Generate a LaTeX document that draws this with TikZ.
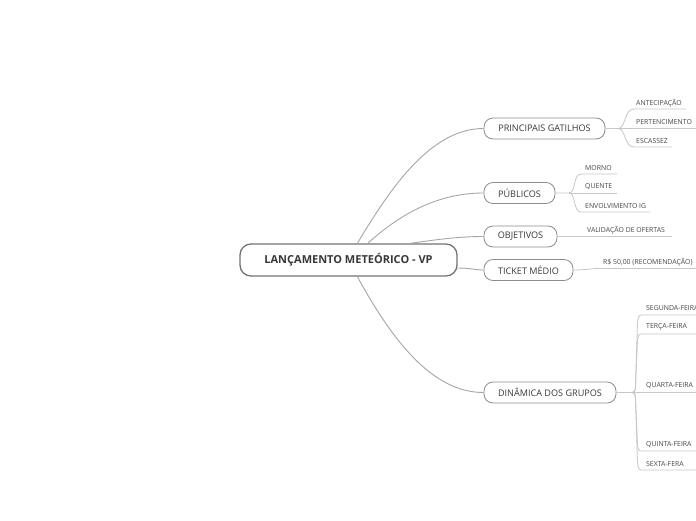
\documentclass[tikz,border=0pt]{standalone}
\usepackage{fontspec}
\setmainfont{Open Sans}
\begin{document}
\begin{tikzpicture}[x=1pt,y=-1pt,
  central/.style={draw=black!55,line width=1.3pt,rounded corners=11pt,minimum width=217pt,minimum height=32pt,font=\fontsize{11}{13}\selectfont\bfseries,text=black!78,inner sep=0pt},
  topic/.style={draw=black!45,line width=0.8pt,rounded corners=9pt,minimum height=21pt,font=\fontsize{9.1}{11}\selectfont,text=black!78,inner sep=0pt},
  sub/.style={font=\fontsize{6.9}{8}\selectfont,text=black!72,inner sep=0pt,anchor=west},
  conn/.style={draw=black!35,line width=0.9pt},
  subconn/.style={draw=black!22,line width=0.8pt}]
\clip (0,0) rectangle (696,520);
\fill[white] (0,0) rectangle (696,520);
\node[central] (c) at (348.5,260) {LANÇAMENTO METEÓRICO - VP};
\node[topic,minimum width=121pt] (g) at (544.5,128.5) {PRINCIPAIS GATILHOS};
\node[topic,minimum width=71pt] (p) at (519.5,193) {PÚBLICOS};
\node[topic,minimum width=73pt] (o) at (520.5,236.5) {OBJETIVOS};
\node[topic,minimum width=89pt] (t) at (528.5,270) {TICKET MÉDIO};
\node[topic,minimum width=132pt] (d) at (550,392.5) {DINÂMICA DOS GRUPOS};
% main connectors
\coordinate (cg) at (357,244);
\coordinate (cp) at (367,244);
\coordinate (co) at (406,244);
\coordinate (ct) at (457,268);
\coordinate (cd) at (357,276);
\draw[conn] (cg) .. controls (392,185) and (432,128.5) .. (g.west);
\draw[conn] (cp) .. controls (402,212) and (440,193) .. (p.west);
\draw[conn] (co) .. controls (440,239) and (460,236.5) .. (o.west);
\draw[conn] (ct) .. controls (470,268) and (475,270) .. (t.west);
\draw[conn] (cd) .. controls (392,340) and (432,392.5) .. (d.west);
% sub items of GATILHOS
\node[sub] (g1) at (636,103) {ANTECIPAÇÃO};
\node[sub] (g2) at (636,122) {PERTENCIMENTO};
\node[sub] (g3) at (636,141) {ESCASSEZ};
\coordinate (gf) at (618,128.5);
\draw[subconn] (g.east) -- (gf) .. controls (626,128.5) and (624,109) .. (634,109) -- (686,109);
\draw[subconn] (gf) -- (696,128.5);
\draw[subconn] (gf) .. controls (626,128.5) and (624,147) .. (634,147) -- (672,147);
% PUBLICOS
\node[sub] (p1) at (585,168) {MORNO};
\node[sub] (p2) at (585,187) {QUENTE};
\node[sub] (p3) at (585,206) {ENVOLVIMENTO IG};
\coordinate (pf) at (569,193);
\draw[subconn] (p.east) -- (pf) .. controls (576,193) and (573,174) .. (581,174) -- (617,174);
\draw[subconn] (pf) -- (617,193);
\draw[subconn] (pf) .. controls (576,193) and (573,212) .. (581,212) -- (650,212);
% OBJETIVOS
\node[sub] (o1) at (587,230) {VALIDAÇÃO DE OFERTAS};
\draw[subconn] (o.east) .. controls (570,236.5) and (575,236.5) .. (585,236.5) -- (672,236.5);
% TICKET
\node[sub] (t1) at (603,262.5) {R\$ 50,00 (RECOMENDAÇÃO)};
\draw[subconn] (t.east) .. controls (585,270) and (590,268.5) .. (600,268.5) -- (696,268.5);
% DINAMICA
\node[sub] (d1) at (646,308) {SEGUNDA-FEIRA};
\node[sub] (d2) at (646,327) {TERÇA-FEIRA};
\node[sub] (d3) at (646,386) {QUARTA-FEIRA};
\node[sub] (d4) at (646,445) {QUINTA-FEIRA};
\node[sub] (d5) at (646,464) {SEXTA-FERA};
\coordinate (df) at (629,392.5);
\draw[subconn] (d.east) -- (df);
\foreach \yy in {315,334,451,470}{
  \pgfmathsetmacro{\ya}{\yy+(392.5-\yy)*0.9}
  \pgfmathsetmacro{\yb}{\yy+(392.5-\yy)*0.1}
  \draw[subconn] (df) .. controls (634,392.5) and (635.5,392.5) .. (635.5,\ya) -- (637.5,\yb) .. controls (638.5,\yy) and (639,\yy) .. (643,\yy) -- (696,\yy);
}
\draw[subconn] (df) -- (696,392.5);
\end{tikzpicture}
\end{document}
